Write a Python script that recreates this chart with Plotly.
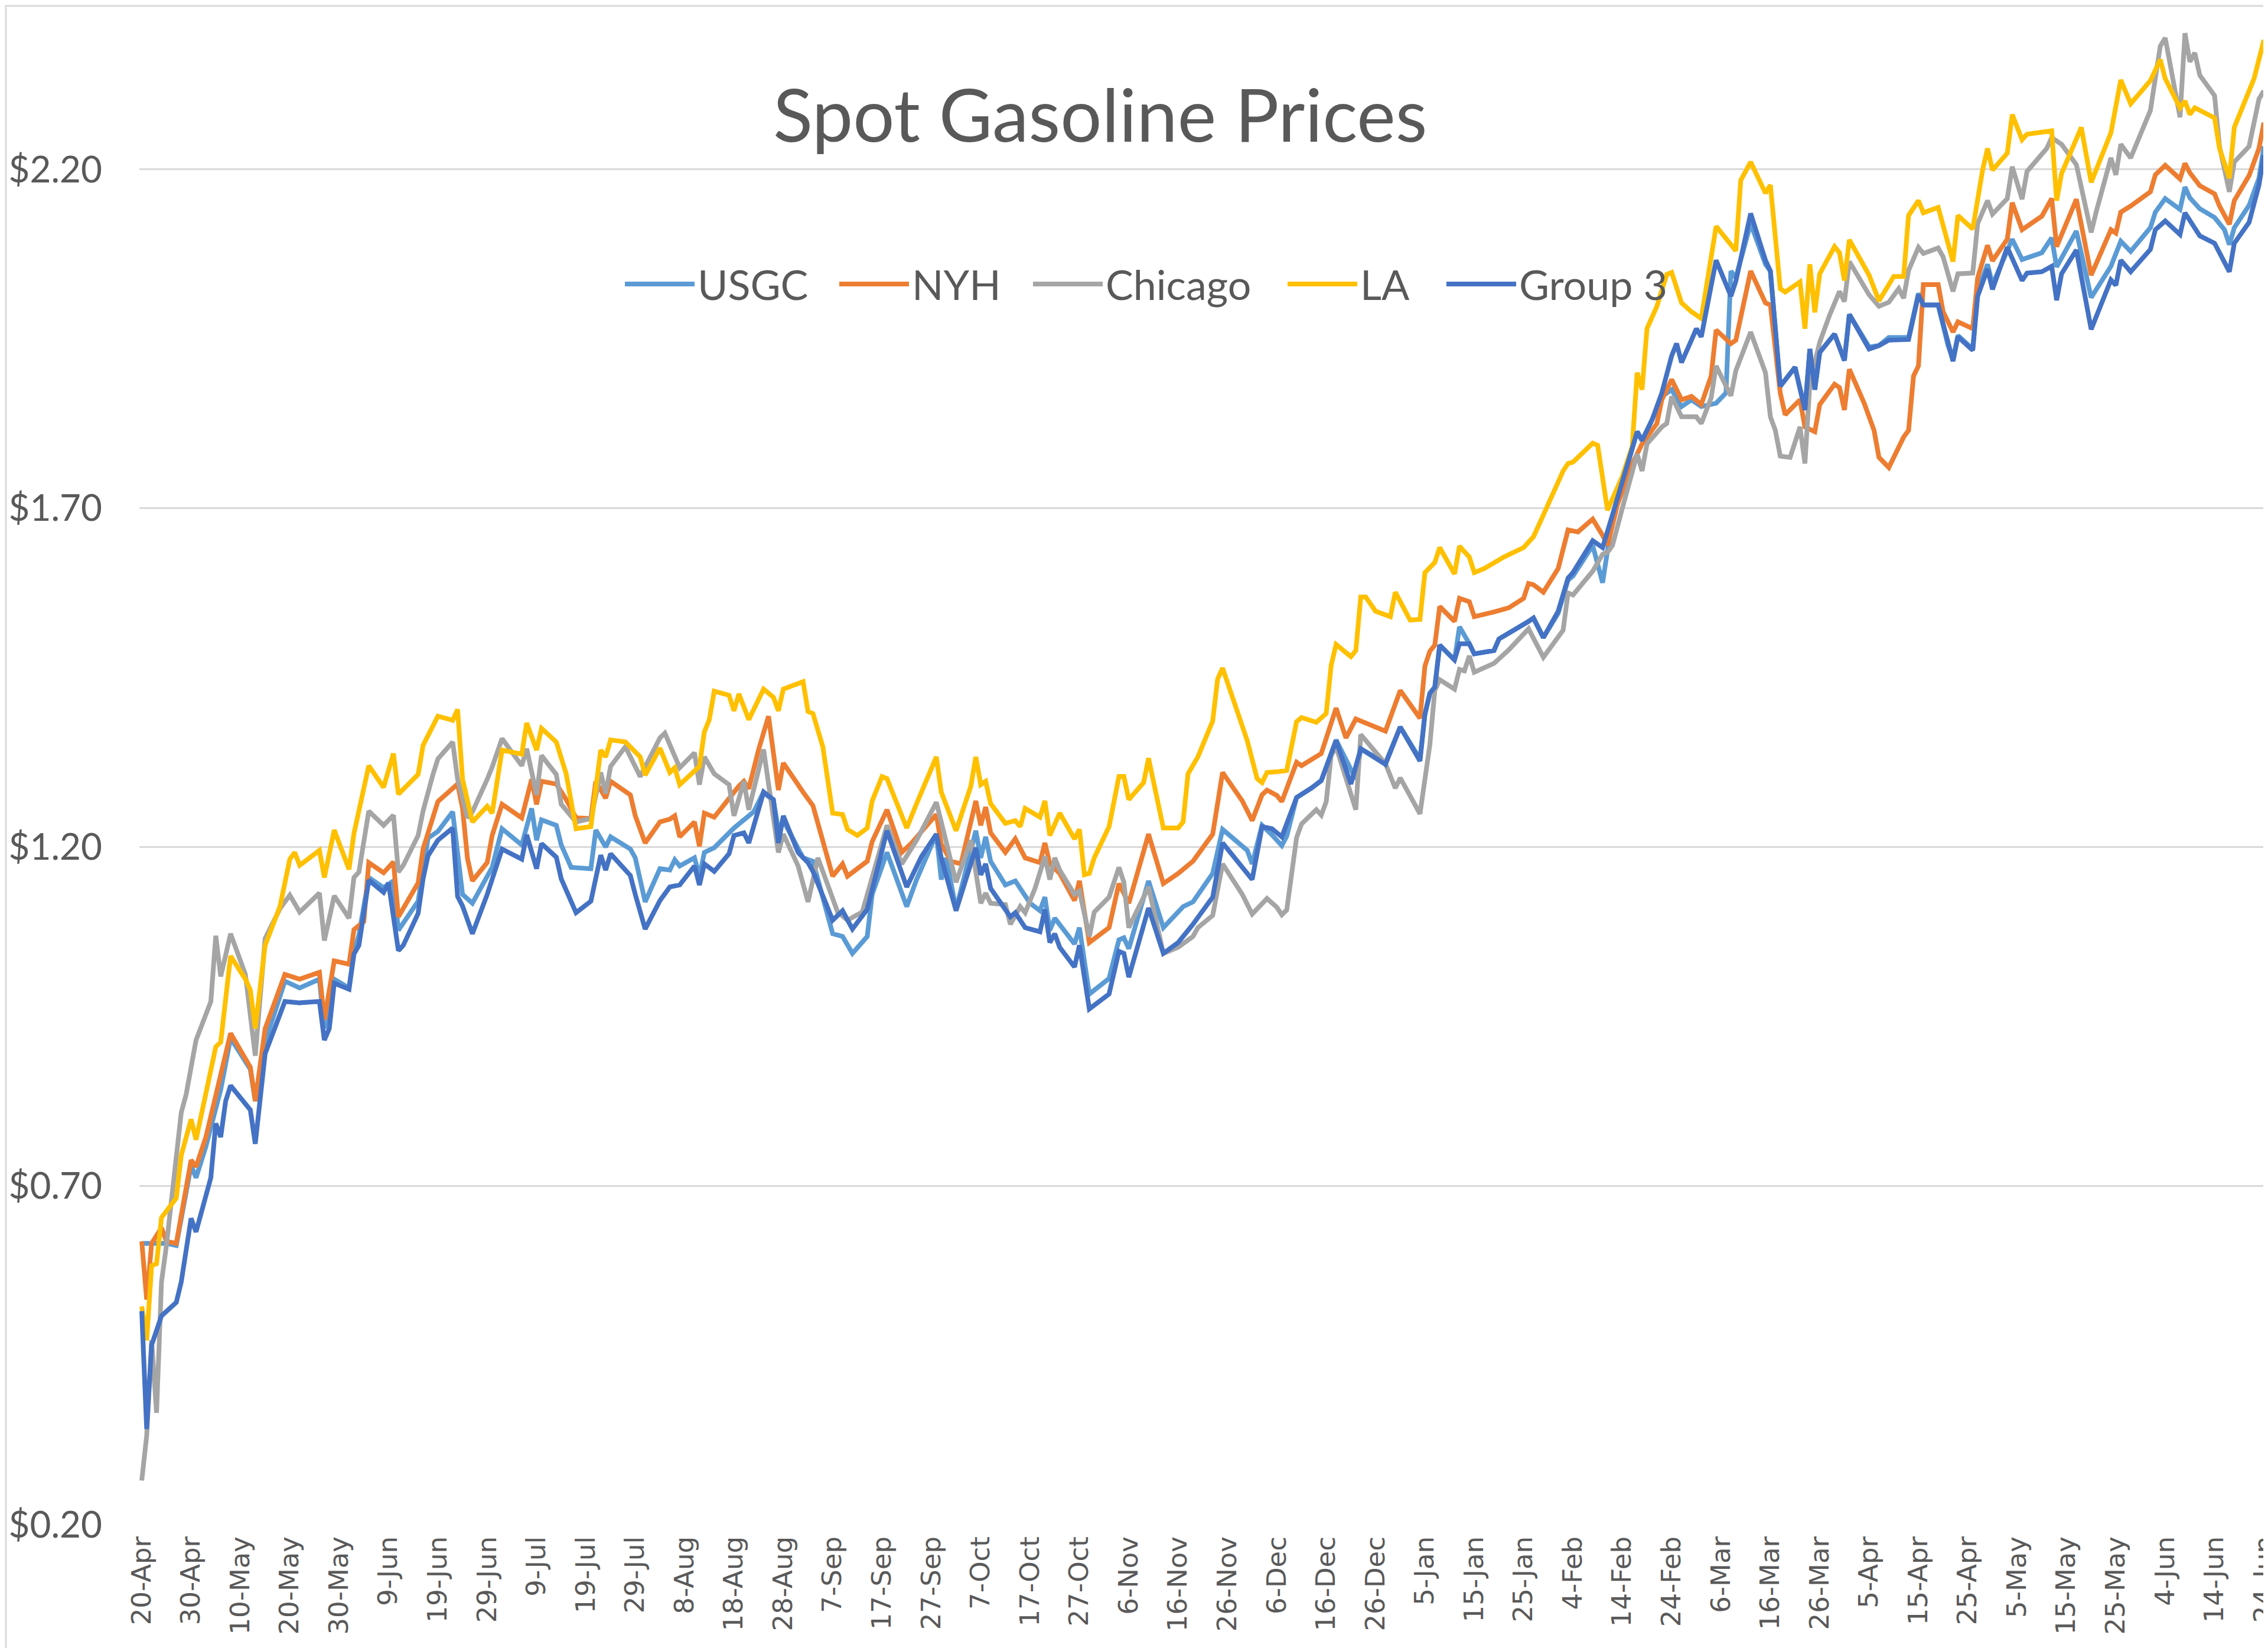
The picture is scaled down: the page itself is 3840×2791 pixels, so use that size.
import pandas as pd
import plotly.graph_objects as go

# (days since 20-Apr-2020, price $/gal)
start_date = "2020-04-20"

usgc = [(0,0.615),(2,0.615),(5,0.615),(7,0.612),(10,0.73),(11,0.712),(13,0.758),(16,0.842),(18,0.918),
(22,0.872),(23,0.825),(25,0.912),(29,1.002),(32,0.992),(36,1.005),(37,0.932),(39,1.005),(42,0.992),(43,1.045),
(44,1.07),(46,1.155),(49,1.14),(51,1.15),(52,1.077),(56,1.12),(58,1.213),(60,1.223),(63,1.252),(65,1.13),
(67,1.117),(71,1.17),(73,1.227),(77,1.203),(79,1.257),(80,1.21),(81,1.24),(84,1.232),(85,1.203),(87,1.17),
(91,1.168),(92,1.225),(94,1.20),(95,1.215),(99,1.197),(100,1.184),(102,1.119),(105,1.168),(107,1.166),(108,1.181),
(109,1.172),(112,1.184),(113,1.157),(114,1.192),(116,1.199),(120,1.228),(124,1.252),(126,1.281),(128,1.268),(129,1.226),
(130,1.239),(134,1.184),(136,1.179),(140,1.072),(142,1.068),(144,1.043),(147,1.068),(148,1.13),(151,1.192),(155,1.112),
(157,1.152),(161,1.219),(162,1.152),(163,1.184),(165,1.108),(169,1.224),(170,1.184),(171,1.215),(172,1.179),(175,1.144),
(177,1.15),(180,1.117),(182,1.106),(183,1.126),(184,1.077),(185,1.095),(189,1.057),(190,1.081),(192,0.983),(196,1.006),
(198,1.063),(199,1.066),(200,1.05),(204,1.15),(207,1.081),(211,1.112),(213,1.119),(217,1.161),(219,1.226),(224,1.195),
(225,1.175),(227,1.232),(229,1.218),(231,1.202),(232,1.216),(234,1.273),(237,1.287),(239,1.298),(242,1.358),(246,1.30),
(247,1.345),(252,1.324),(255,1.377),(259,1.33),(260,1.396),(261,1.427),(262,1.436),(263,1.498),(266,1.476),(267,1.525),
(269,1.50),(270,1.485),(274,1.49),(275,1.507),(281,1.533),(282,1.538),(284,1.509),(287,1.545),(289,1.594),(290,1.60),
(294,1.645),(296,1.59),(298,1.685),(303,1.813),(304,1.80),(306,1.83),(308,1.865),(310,1.875),(312,1.85),(314,1.86),
(316,1.85),(319,1.855),(321,1.87),(322,2.05),(323,2.04),(326,2.12),(329,2.06),(330,2.05),(332,1.88),(335,1.908),
(337,1.845),(338,1.935),(339,1.875),(340,1.93),(343,1.957),(345,1.918),(346,1.986),(350,1.938),(352,1.94),(354,1.952),
(358,1.952),(360,2.017),(361,2.00),(364,2.00),(366,1.94),(367,1.92),(368,1.955),(371,1.935),(372,2.02),(374,2.06),
(375,2.03),(379,2.097),(381,2.067),(385,2.077),(387,2.099),(388,2.056),(392,2.109),(395,2.011),(399,2.057),(401,2.094),
(403,2.079),(407,2.114),(408,2.137),(410,2.157),(413,2.141),(414,2.174),(415,2.158),(417,2.142),(420,2.129),(422,2.111),
(423,2.089),(424,2.114),(427,2.147),(429,2.187),(430,2.234)]

nyh = [(0,0.618),(1,0.532),(2,0.615),(4,0.638),(5,0.618),(7,0.615),(10,0.738),(11,0.728),(13,0.772),(16,0.868),
(18,0.925),(22,0.875),(23,0.825),(25,0.932),(29,1.012),(32,1.005),(36,1.015),(37,0.945),(39,1.032),(42,1.027),
(43,1.078),(45,1.09),(46,1.177),(49,1.162),(51,1.178),(52,1.097),(56,1.147),(57,1.197),(59,1.243),(60,1.267),
(64,1.293),(65,1.257),(66,1.183),(67,1.15),(70,1.177),(71,1.217),(73,1.263),(77,1.243),(79,1.30),(80,1.263),
(81,1.297),(84,1.293),(86,1.27),(88,1.243),(91,1.242),(92,1.297),(94,1.272),(95,1.297),(99,1.277),(100,1.246),
(102,1.206),(105,1.237),(107,1.241),(108,1.246),(109,1.215),(112,1.237),(113,1.201),(114,1.25),(116,1.244),(119,1.272),
(121,1.29),(122,1.297),(123,1.286),(125,1.344),(127,1.393),(129,1.284),(130,1.324),(134,1.281),(136,1.261),(140,1.157),
(142,1.175),(143,1.157),(145,1.168),(147,1.179),(148,1.208),(151,1.255),(154,1.192),(156,1.206),(161,1.248),(162,1.204),
(164,1.179),(166,1.175),(169,1.268),(170,1.232),(171,1.259),(172,1.221),(175,1.192),(177,1.212),(179,1.184),(182,1.177),
(183,1.206),(184,1.175),(186,1.161),(189,1.121),(190,1.15),(192,1.059),(196,1.081),(198,1.146),(200,1.117),(204,1.219),
(207,1.146),(210,1.161),(213,1.179),(217,1.219),(219,1.31),(223,1.268),(225,1.239),(227,1.277),(228,1.284),(230,1.276),
(231,1.267),(232,1.287),(234,1.325),(235,1.32),(238,1.333),(239,1.338),(242,1.405),(244,1.361),(246,1.389),(252,1.371),
(255,1.431),(259,1.39),(260,1.467),(261,1.489),(262,1.498),(263,1.555),(266,1.533),(267,1.567),(269,1.562),(270,1.54),
(274,1.547),(277,1.553),(280,1.567),(281,1.589),(282,1.587),(284,1.576),(287,1.611),(289,1.668),(291,1.665),(294,1.684),
(296,1.66),(297,1.645),(299,1.705),(302,1.765),(304,1.795),(307,1.825),(308,1.86),(310,1.89),(312,1.86),(314,1.865),
(316,1.853),(318,1.895),(319,1.963),(322,1.943),(323,1.948),(326,2.05),(329,2.003),(330,2.00),(332,1.87),(333,1.838),
(336,1.86),(337,1.82),(339,1.813),(340,1.853),(343,1.883),(344,1.878),(345,1.845),(346,1.905),(349,1.855),(351,1.815),
(352,1.775),(354,1.76),(357,1.805),(358,1.815),(359,1.895),(360,1.91),(361,2.03),(364,2.03),(365,1.99),(367,1.96),
(368,1.975),(371,1.965),(372,2.04),(374,2.088),(375,2.065),(378,2.097),(379,2.151),(381,2.111),(385,2.131),(387,2.157),
(388,2.086),(392,2.156),(395,2.044),(399,2.111),(400,2.106),(401,2.137),(403,2.146),(407,2.167),(408,2.192),(410,2.206),
(413,2.186),(414,2.209),(415,2.195),(417,2.176),(420,2.164),(421,2.146),(423,2.119),(424,2.154),(427,2.191),(429,2.231),
(430,2.269)]

chicago = [(0,0.265),(1,0.331),(2,0.472),(3,0.365),(4,0.558),(5,0.612),(8,0.808),(9,0.835),(11,0.915),(14,0.972),
(15,1.069),(16,1.009),(18,1.072),(21,1.012),(23,0.892),(25,1.065),(28,1.109),(30,1.129),(32,1.104),(36,1.132),
(37,1.062),(39,1.128),(42,1.095),(43,1.155),(44,1.163),(46,1.253),(49,1.232),(51,1.247),(52,1.163),(53,1.173),
(56,1.217),(57,1.253),(59,1.307),(60,1.33),(63,1.355),(64,1.30),(66,1.243),(67,1.252),(70,1.30),(71,1.318),
(73,1.36),(77,1.32),(78,1.345),(80,1.277),(81,1.335),(84,1.307),(85,1.263),(88,1.237),(91,1.242),(93,1.31),
(94,1.279),(95,1.319),(98,1.348),(100,1.317),(101,1.304),(105,1.361),(106,1.368),(109,1.317),(112,1.339),(113,1.292),
(114,1.333),(116,1.308),(119,1.292),(120,1.246),(122,1.297),(123,1.255),(126,1.344),(129,1.192),(130,1.219),(133,1.172),
(135,1.119),(137,1.184),(141,1.104),(143,1.092),(146,1.104),(151,1.232),(154,1.175),(157,1.21),(161,1.266),(162,1.237),
(165,1.148),(168,1.21),(170,1.117),(171,1.132),(172,1.117),(175,1.115),(176,1.086),(178,1.112),(179,1.103),(181,1.139),
(183,1.186),(184,1.152),(185,1.184),(186,1.166),(189,1.13),(190,1.135),(192,1.068),(193,1.104),(196,1.126),(198,1.17),
(199,1.148),(200,1.081),(204,1.141),(207,1.043),(210,1.052),(213,1.068),(214,1.081),(217,1.099),(219,1.175),(223,1.13),
(225,1.101),(228,1.124),(230,1.111),(231,1.10),(232,1.107),(234,1.214),(235,1.234),(238,1.255),(239,1.247),(240,1.267),
(241,1.335),(242,1.348),(246,1.255),(247,1.366),(252,1.323),(254,1.287),(255,1.302),(259,1.249),(261,1.351),(262,1.431),
(263,1.447),(266,1.433),(267,1.462),(268,1.46),(269,1.482),(270,1.458),(274,1.471),(277,1.491),(281,1.522),(284,1.48),
(288,1.52),(289,1.575),(290,1.572),(294,1.607),(296,1.632),(297,1.635),(298,1.645),(300,1.70),(303,1.78),(304,1.755),
(305,1.795),(308,1.82),(309,1.825),(310,1.865),(312,1.835),(315,1.835),(316,1.825),(318,1.863),(319,1.91),(322,1.866),
(323,1.903),(326,1.96),(329,1.90),(330,1.835),(331,1.815),(332,1.777),(334,1.775),(336,1.82),(337,1.766),(338,1.885),
(340,1.945),(342,1.985),(344,2.02),(345,2.005),(346,2.064),(350,2.015),(352,1.998),(354,2.004),(356,2.024),(357,2.01),
(358,2.051),(360,2.085),(361,2.076),(364,2.084),(365,2.071),(367,2.02),(368,2.046),(371,2.047),(372,2.12),(374,2.154),
(375,2.134),(378,2.157),(379,2.204),(381,2.156),(382,2.197),(384,2.214),(386,2.231),(387,2.247),(389,2.237),(391,2.217),
(392,2.207),(395,2.107),(396,2.137),(399,2.217),(400,2.192),(401,2.237),(403,2.217),(407,2.287),(409,2.382),(410,2.394),
(413,2.277),(414,2.401),(415,2.359),(416,2.372),(417,2.339),(420,2.309),(421,2.234),(423,2.167),(424,2.211),(427,2.234),
(429,2.304),(430,2.316)]

la = [(0,0.522),(1,0.472),(2,0.582),(3,0.585),(4,0.653),(7,0.682),(8,0.745),(10,0.798),(11,0.768),(13,0.835),
(15,0.905),(16,0.912),(18,1.039),(21,1.005),(22,0.989),(23,0.932),(25,1.055),(28,1.112),(30,1.182),(31,1.192),
(32,1.173),(36,1.195),(37,1.155),(39,1.225),(42,1.167),(43,1.22),(46,1.32),(49,1.288),(51,1.338),(52,1.278),
(56,1.307),(57,1.35),(59,1.38),(60,1.393),(63,1.387),(64,1.403),(65,1.30),(67,1.237),(70,1.26),(71,1.25),
(73,1.343),(77,1.337),(78,1.383),(80,1.343),(81,1.375),(84,1.355),(86,1.308),(88,1.227),(91,1.23),(93,1.343),
(94,1.333),(95,1.358),(98,1.355),(101,1.333),(102,1.306),(105,1.346),(107,1.31),(108,1.317),(109,1.292),(113,1.319),
(114,1.37),(115,1.388),(116,1.43),(119,1.424),(120,1.401),(121,1.426),(123,1.388),(126,1.433),(128,1.421),(129,1.401),
(130,1.433),(134,1.444),(135,1.40),(136,1.397),(138,1.348),(140,1.25),(142,1.248),(143,1.226),(145,1.217),(147,1.228),
(148,1.268),(150,1.304),(151,1.301),(155,1.228),(157,1.264),(161,1.333),(162,1.281),(165,1.224),(168,1.29),(169,1.333),
(170,1.292),(171,1.297),(172,1.264),(175,1.235),(177,1.239),(178,1.23),(179,1.257),(182,1.244),(183,1.268),(184,1.217),
(186,1.25),(189,1.212),(190,1.226),(191,1.159),(192,1.161),(193,1.184),(196,1.23),(198,1.304),(199,1.304),(200,1.27),
(203,1.295),(204,1.331),(207,1.228),(210,1.228),(211,1.237),(212,1.308),(214,1.333),(217,1.386),(218,1.448),(219,1.464),
(224,1.357),(226,1.301),(227,1.295),(228,1.31),(230,1.311),(232,1.313),(234,1.385),(235,1.391),(238,1.384),(240,1.397),
(241,1.468),(242,1.499),(245,1.481),(246,1.49),(247,1.569),(248,1.569),(250,1.548),(253,1.54),(254,1.576),(257,1.535),
(259,1.536),(260,1.605),(262,1.62),(263,1.642),(266,1.603),(267,1.644),(269,1.628),(270,1.605),(272,1.611),(276,1.628),
(280,1.642),(282,1.658),(284,1.69),(286,1.723),(288,1.755),(289,1.766),(290,1.768),(294,1.796),(295,1.793),(297,1.697),
(300,1.747),(302,1.791),(303,1.90),(304,1.875),(305,1.965),(307,1.998),(309,2.045),(310,2.048),(312,2.003),(314,1.99),
(316,1.98),(319,2.116),(323,2.08),(324,2.184),(326,2.211),(329,2.165),(330,2.177),(332,2.024),(333,2.019),(336,2.034),
(337,1.965),(338,2.06),(339,1.989),(340,2.046),(343,2.086),(344,2.077),(345,2.036),(346,2.096),(350,2.044),(352,2.006),
(355,2.042),(357,2.042),(358,2.132),(360,2.154),(361,2.136),(364,2.144),(367,2.064),(368,2.132),(371,2.112),(373,2.199),
(374,2.231),(375,2.199),(378,2.224),(379,2.281),(381,2.244),(382,2.252),(385,2.254),(387,2.257),(388,2.154),(389,2.194),
(393,2.262),(395,2.181),(399,2.254),(401,2.332),(403,2.297),(407,2.331),(409,2.362),(410,2.334),(413,2.291),(414,2.301),
(415,2.281),(416,2.291),(420,2.276),(421,2.231),(423,2.187),(424,2.262),(428,2.334),(430,2.391)]

group3 = [(0,0.515),(1,0.341),(2,0.465),(4,0.508),(7,0.528),(8,0.558),(10,0.652),(11,0.632),(14,0.712),(15,0.792),
(16,0.772),(17,0.825),(18,0.848),(22,0.812),(23,0.762),(25,0.895),(29,0.972),(32,0.97),(36,0.972),(37,0.915),
(38,0.932),(39,0.999),(42,0.99),(43,1.042),(44,1.055),(46,1.151),(49,1.133),(50,1.147),(52,1.047),(53,1.055),
(56,1.102),(57,1.153),(58,1.187),(60,1.21),(63,1.228),(64,1.127),(65,1.113),(67,1.072),(70,1.13),(73,1.197),
(77,1.182),(78,1.218),(80,1.168),(81,1.205),(84,1.185),(85,1.153),(88,1.103),(91,1.12),(93,1.188),(94,1.166),
(95,1.19),(99,1.158),(100,1.13),(102,1.079),(105,1.121),(107,1.141),(109,1.144),(112,1.172),(113,1.144),(114,1.175),
(116,1.164),(119,1.19),(120,1.217),(122,1.221),(123,1.206),(126,1.281),(128,1.27),(129,1.206),(130,1.246),(133,1.192),
(135,1.177),(136,1.164),(140,1.092),(142,1.106),(144,1.079),(147,1.108),(151,1.224),(155,1.141),(158,1.186),(161,1.219),
(162,1.184),(165,1.106),(169,1.199),(170,1.159),(171,1.175),(172,1.139),(176,1.097),(177,1.103),(179,1.081),(182,1.075),
(183,1.108),(184,1.059),(185,1.072),(186,1.052),(189,1.023),(190,1.055),(192,0.961),(196,0.983),(198,1.046),(199,1.043),
(200,1.008),(204,1.11),(207,1.043),(210,1.059),(213,1.086),(217,1.126),(219,1.206),(225,1.152),(227,1.23),(229,1.227),
(231,1.215),(234,1.273),(237,1.287),(239,1.298),(242,1.357),(245,1.293),(247,1.345),(252,1.322),(255,1.377),(259,1.327),
(260,1.396),(261,1.427),(262,1.436),(263,1.498),(266,1.476),(267,1.50),(269,1.50),(270,1.485),(274,1.49),(275,1.507),
(281,1.533),(282,1.538),(284,1.509),(287,1.548),(289,1.597),(290,1.605),(294,1.652),(296,1.642),(298,1.69),(303,1.813),
(304,1.80),(306,1.83),(308,1.87),(310,1.925),(311,1.943),(312,1.915),(314,1.948),(315,1.965),(316,1.953),(319,2.066),
(322,2.013),(323,2.035),(326,2.135),(329,2.066),(330,2.05),(332,1.88),(335,1.908),(337,1.845),(338,1.935),(339,1.875),
(340,1.93),(343,1.957),(345,1.918),(346,1.986),(350,1.935),(352,1.94),(354,1.948),(358,1.949),(360,2.015),(361,2.00),
(364,2.00),(366,1.94),(367,1.917),(368,1.953),(371,1.933),(372,2.013),(374,2.053),(375,2.023),(378,2.085),(381,2.036),
(382,2.047),(385,2.049),(387,2.057),(388,2.007),(389,2.046),(392,2.081),(395,1.964),(399,2.037),(400,2.029),(401,2.066),
(403,2.049),(407,2.082),(408,2.111),(410,2.124),(413,2.104),(414,2.136),(415,2.125),(417,2.102),(420,2.091),(423,2.049),
(424,2.091),(427,2.122),(429,2.177),(430,2.221)]

series_names = ["USGC", "NYH", "Chicago", "LA", "Group 3"]
series_colors = ["#5B9BD5", "#ED7D31", "#A5A5A5", "#FFC000", "#4472C4"]

x_tick_labels = ["20-Apr", "30-Apr", "10-May", "20-May", "30-May", "9-Jun", "19-Jun", "29-Jun",
                 "9-Jul", "19-Jul", "29-Jul", "8-Aug", "18-Aug", "28-Aug", "7-Sep", "17-Sep",
                 "27-Sep", "7-Oct", "17-Oct", "27-Oct", "6-Nov", "16-Nov", "26-Nov", "6-Dec",
                 "16-Dec", "26-Dec", "5-Jan", "15-Jan", "25-Jan", "4-Feb", "14-Feb", "24-Feb",
                 "6-Mar", "16-Mar", "26-Mar", "5-Apr", "15-Apr", "25-Apr", "5-May", "15-May",
                 "25-May", "4-Jun", "14-Jun", "24-Jun"]
y_ticks = [0.20, 0.70, 1.20, 1.70, 2.20]
y_tick_labels = ["$0.20", "$0.70", "$1.20", "$1.70", "$2.20"]

start = pd.Timestamp(start_date)

def to_xy(pairs):
    days = [p[0] for p in pairs]
    vals = [p[1] for p in pairs]
    dates = [start + pd.Timedelta(days=d) for d in days]
    return dates, vals

W, H = 3840, 2791
ml, mr, mt, mb = 228, 11, 15, 217
pw, ph = W - ml - mr, H - mt - mb
txt = "#595959"

# legend entry start positions (pixels across the figure)
legend_px = [1045, 1408, 1736, 2167, 2436]
legend_keys = ["legend", "legend2", "legend3", "legend4", "legend5"]

fig = go.Figure()
for name, data, color, lk in zip(series_names, [usgc, nyh, chicago, la, group3],
                                 series_colors, legend_keys):
    xs, ys = to_xy(data)
    fig.add_trace(go.Scatter(x=xs, y=ys, mode="lines", name=name, legend=lk,
                             line=dict(color=color, width=8)))

px_per_day = 8.356
x0 = start - pd.Timedelta(days=4 / px_per_day)
x1 = x0 + pd.Timedelta(days=pw / px_per_day)
tickvals = [start + pd.Timedelta(days=10 * i) for i in range(len(x_tick_labels))]

legend_layout = {}
for lk, lx in zip(legend_keys, legend_px):
    legend_layout[lk] = dict(orientation="h", x=(lx - ml) / pw, xanchor="left",
                             y=0.821, yanchor="middle",
                             font=dict(family="Lato", size=70, color=txt), itemwidth=118,
                             bgcolor="rgba(0,0,0,0)", borderwidth=0)

fig.update_layout(
    width=W, height=H,
    margin=dict(l=ml, r=mr, t=mt, b=mb, autoexpand=False),
    paper_bgcolor="white", plot_bgcolor="white",
    title=dict(text="Spot Gasoline Prices", x=0.483, xanchor="center",
               y=1 - 189 / H, yanchor="middle", yref="container",
               font=dict(family="Lato", size=124, color=txt)),
    xaxis=dict(type="date", range=[x0, x1], tickvals=tickvals, ticktext=x_tick_labels,
               tickangle=-90, tickfont=dict(family="DejaVu Sans", size=45, color=txt),
               showgrid=False, zeroline=False, showline=False, ticks="", automargin=False,
               ticklabelstandoff=10, ticklabeloverflow="allow"),
    yaxis=dict(range=[0.2, 2.43], tickvals=y_ticks, ticktext=y_tick_labels,
               tickfont=dict(family="Lato", size=62, color=txt), automargin=False,
               showgrid=True, gridcolor="#D9D9D9", gridwidth=3,
               zeroline=False, showline=False, ticks="", ticklabelstandoff=62),
    showlegend=True,
    **legend_layout,
)

# chart-area frame
fig.add_shape(type="rect", xref="paper", yref="paper",
              x0=-(ml - 2) / pw, x1=1 + (mr - 2) / pw,
              y0=-(mb - 2) / ph, y1=1 + (mt - 2) / ph,
              line=dict(color="#D9D9D9", width=3), layer="below")

fig.write_html("out.html")
